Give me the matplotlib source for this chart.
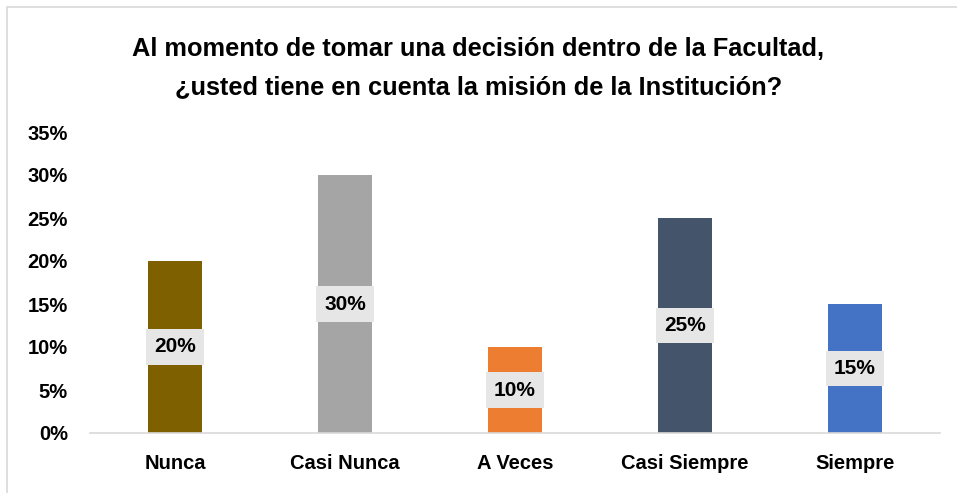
import matplotlib.pyplot as plt
from matplotlib.patches import Rectangle
from matplotlib.ticker import PercentFormatter

plt.rcParams["font.family"] = ["Liberation Sans", "DejaVu Sans"]

categories = ["Nunca", "Casi Nunca", "A Veces", "Casi Siempre", "Siempre"]
values = [0.20, 0.30, 0.10, 0.25, 0.15]
colors = ["#7F6000", "#A5A5A5", "#ED7D31", "#44546A", "#4472C4"]
yticks = [0, 0.05, 0.10, 0.15, 0.20, 0.25, 0.30, 0.35]

title = ("Al momento de tomar una decisión dentro de la Facultad,\n"
         "¿usted tiene en cuenta la misión de la Institución?")

fig = plt.figure(figsize=(9.57, 4.93), dpi=100)
ax = fig.add_axes([90 / 957, 1 - 433 / 493, 850 / 957, 301 / 493])

x = range(len(categories))
ax.bar(x, values, width=0.32, color=colors)

# data labels in grey boxes at bar middle
for xi, v in zip(x, values):
    ax.text(xi, v / 2, f"{v:.0%}", ha="center", va="center",
            fontsize=15, fontweight="bold", color="#000000",
            bbox=dict(boxstyle="square,pad=0.4", fc="#E7E6E6",
                      ec="none", lw=0))

ax.set_xlim(-0.5, len(categories) - 0.5)
ax.set_ylim(0, 0.35)
ax.set_yticks(yticks)
ax.yaxis.set_major_formatter(PercentFormatter(1.0, decimals=0))
ax.set_xticks(list(x))
ax.set_xticklabels(categories)
ax.tick_params(axis="both", length=0, labelsize=14.5)
ax.tick_params(axis="x", pad=15)
ax.tick_params(axis="y", pad=16)
for lab in ax.get_xticklabels() + ax.get_yticklabels():
    lab.set_fontweight("bold")

for side in ["top", "right", "left"]:
    ax.spines[side].set_visible(False)
ax.spines["bottom"].set_color("#D9D9D9")
ax.spines["bottom"].set_linewidth(1.2)

fig.text(0.5, 1 - 68 / 493, title, ha="center", va="center",
         fontsize=18.3, fontweight="bold", linespacing=1.75)

# outer chart frame (cropped at right/bottom)
fig.patches.append(Rectangle((7 / 957, -0.1), 1.1, 1 - 7 / 493 + 0.1,
                             transform=fig.transFigure, fill=False,
                             ec="#D9D9D9", lw=1.2))

fig.savefig("out.png", dpi=100)
